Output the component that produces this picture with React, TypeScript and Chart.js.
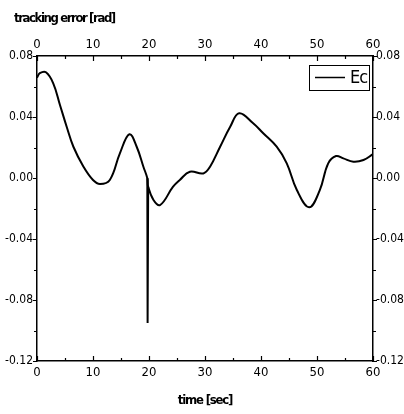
import React, { useEffect, useRef } from "react";
import { Chart, registerables } from "chart.js";

Chart.register(...registerables);

// ---- data ----
const timeSec = [
  0, 0.5, 1.6, 2.9, 4.1, 5.3, 6.5, 8.3, 10, 11.25, 13, 14.8, 16.5, 17.8, 19,
  19.7, 19.85, 20.8, 22, 24.3, 25.5, 27.3, 29.7, 30.9, 32.7, 34.5, 36.1,
  38.6, 40.4, 42.8, 44.6, 46.4, 48.6, 50.5, 52, 53.4, 54.7, 56.5, 58.3, 60,
];
const trackingError = [
  0.0658, 0.0687, 0.0693, 0.0621, 0.0479, 0.0336, 0.0205, 0.0074, -0.0013,
  -0.0039, -0.0013, 0.0162, 0.0287, 0.0205, 0.0074, -0.0002, -0.0057,
  -0.0144, -0.0177, -0.0057, -0.0013, 0.0041, 0.003, 0.0074, 0.0205, 0.0336,
  0.0424, 0.0359, 0.0293, 0.0205, 0.0096, -0.0079, -0.0192, -0.0079, 0.0096,
  0.0144, 0.0129, 0.0107, 0.0118, 0.0157,
];
// the sharp spike near t = 20 s (same series, drawn without smoothing)
const spikeTime = [19.7, 19.75, 19.85];
const spikeError = [-0.0002, -0.095, -0.0057];

const xTicks = [0, 10, 20, 30, 40, 50, 60];
const yTicks = [-0.12, -0.08, -0.04, 0, 0.04, 0.08];
const seriesLabel = "Ec";
const xTitle = "time [sec]";
const yTitle = "tracking error [rad]";

const FONT = "'DejaVu Sans Condensed', 'Liberation Sans Narrow', 'Liberation Sans', sans-serif";

const fmtY = (v: number) => (Math.abs(v) < 1e-9 ? "0.00" : v.toFixed(2));

const fixSize = (w?: number, h?: number) => (scale: any) => {
  if (w !== undefined) scale.width = w;
  if (h !== undefined) scale.height = h;
  scale.paddingLeft = 0;
  scale.paddingRight = 0;
  scale.paddingTop = 0;
  scale.paddingBottom = 0;
};

const decorPlugin = {
  id: "decor",
  afterDraw(chart: any) {
    const { ctx, chartArea: a, scales } = chart;
    const x = scales.x;
    const y = scales.y;
    ctx.save();
    ctx.strokeStyle = "#000";
    ctx.lineWidth = 1.2;
    ctx.beginPath();
    const xs: number[] = [];
    xTicks.forEach((v, i) => {
      xs.push(v);
      if (i < xTicks.length - 1) xs.push((v + xTicks[i + 1]) / 2);
    });
    xs.forEach((v, i) => {
      const px = Math.round(x.getPixelForValue(v)) + 0.5;
      const len = i % 2 === 0 ? 5 : 3;
      ctx.moveTo(px, a.bottom);
      ctx.lineTo(px, a.bottom - len);
      ctx.moveTo(px, a.top);
      ctx.lineTo(px, a.top + len);
    });
    const ys: number[] = [];
    yTicks.forEach((v, i) => {
      ys.push(v);
      if (i < yTicks.length - 1) ys.push((v + yTicks[i + 1]) / 2);
    });
    ys.forEach((v, i) => {
      const py = Math.round(y.getPixelForValue(v)) + 0.5;
      const len = i % 2 === 0 ? 4 : 3;
      ctx.moveTo(a.left, py);
      ctx.lineTo(a.left - len, py);
      ctx.moveTo(a.right, py);
      ctx.lineTo(a.right + len, py);
    });
    ctx.stroke();

    // legend box
    const bw = 60;
    const bh = 25;
    const bx = a.right - 4 - bw;
    const by = a.top + 9;
    ctx.fillStyle = "#fff";
    ctx.fillRect(bx, by, bw, bh);
    ctx.lineWidth = 1;
    ctx.strokeRect(bx + 0.5, by + 0.5, bw, bh);
    ctx.lineWidth = 1.5;
    ctx.beginPath();
    ctx.moveTo(bx + 6, by + 12.5);
    ctx.lineTo(bx + 36, by + 12.5);
    ctx.stroke();
    ctx.fillStyle = "#000";
    ctx.font = `18px ${FONT}`;
    ctx.textAlign = "left";
    ctx.textBaseline = "middle";
    (ctx as any).letterSpacing = "-1px";
    ctx.fillText(chart.data.datasets[0].label, bx + 41, by + 13);

    // axis titles
    ctx.font = `bold 13px ${FONT}`;
    (ctx as any).letterSpacing = "-1.4px";
    ctx.textBaseline = "middle";
    ctx.textAlign = "left";
    ctx.fillText(yTitle, 14, 19);
    (ctx as any).letterSpacing = "-1.2px";
    ctx.textAlign = "center";
    ctx.fillText(xTitle, (a.left + a.right) / 2, 401);
    ctx.restore();
  },
};

export default function App() {
  const ref = useRef<HTMLCanvasElement | null>(null);
  useEffect(() => {
    if (!ref.current) return;
    const xFont = { family: FONT, size: 13 };
    const yFont = { family: FONT, size: 12 };
    const common = {
      grid: { display: false, drawTicks: false },
      border: { display: true, color: "#000", width: 1.5 },
    };
    const chart = new Chart(ref.current, {
      type: "line",
      data: {
        datasets: [
          {
            label: seriesLabel,
            data: timeSec.map((t, i) => ({ x: t, y: trackingError[i] })),
            borderColor: "#000",
            borderWidth: 2,
            pointRadius: 0,
            tension: 0.4,
            fill: false,
          },
          {
            label: seriesLabel,
            data: spikeTime.map((t, i) => ({ x: t, y: spikeError[i] })),
            borderColor: "#000",
            borderWidth: 2,
            pointRadius: 0,
            tension: 0,
            fill: false,
          },
        ],
      },
      options: {
        animation: false,
        responsive: true,
        maintainAspectRatio: false,
        layout: { padding: 0 },
        plugins: {
          legend: { display: false },
          tooltip: { enabled: false },
        },
        scales: {
          x: {
            type: "linear",
            position: "bottom",
            min: 0,
            max: 60,
            afterBuildTicks: (s: any) => {
              s.ticks = xTicks.map((v) => ({ value: v }));
            },
            afterFit: fixSize(undefined, 53),
            ...common,
            ticks: { color: "#000", font: xFont, padding: 4, maxRotation: 0 },
          },
          x2: {
            type: "linear",
            position: "top",
            min: 0,
            max: 60,
            afterBuildTicks: (s: any) => {
              s.ticks = xTicks.map((v) => ({ value: v }));
            },
            afterFit: fixSize(undefined, 56),
            ...common,
            ticks: { color: "#000", font: xFont, padding: 4, maxRotation: 0 },
          },
          y: {
            type: "linear",
            position: "left",
            min: -0.12,
            max: 0.08,
            afterBuildTicks: (s: any) => {
              s.ticks = yTicks.map((v) => ({ value: v }));
            },
            afterFit: fixSize(37, undefined),
            ...common,
            ticks: {
              color: "#000",
              font: yFont,
              padding: 4,
              callback: (v: any) => fmtY(Number(v)),
            },
          },
          y2: {
            type: "linear",
            position: "right",
            min: -0.12,
            max: 0.08,
            afterBuildTicks: (s: any) => {
              s.ticks = yTicks.map((v) => ({ value: v }));
            },
            afterFit: fixSize(31, undefined),
            ...common,
            ticks: {
              color: "#000",
              font: yFont,
              padding: 3,
              callback: (v: any) => fmtY(Number(v)),
            },
          },
        },
      },
      plugins: [decorPlugin],
    } as any);
    return () => chart.destroy();
  }, []);

  return (
    <div
      style={{
        position: "absolute",
        left: 0,
        top: 0,
        width: 404,
        height: 414,
        background: "#fff",
      }}
    >
      <canvas ref={ref} />
    </div>
  );
}
